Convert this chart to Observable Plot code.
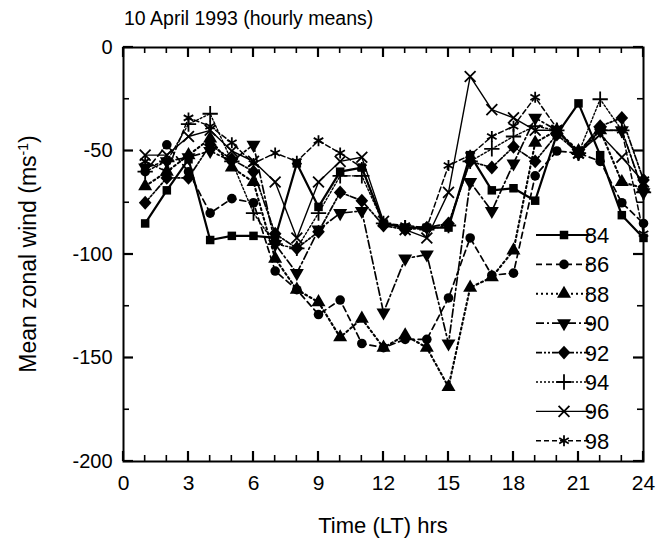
<!DOCTYPE html>
<html><head><meta charset="utf-8">
<script src="https://cdn.jsdelivr.net/npm/d3@7"></script>
<script src="https://cdn.jsdelivr.net/npm/@observablehq/plot@0.6"></script>
<style>
body{margin:0;background:#fff;}
#wrap{position:relative;width:670px;height:540px;font-family:"Liberation Sans",Arial,Helvetica,sans-serif;}
#title{position:absolute;left:124px;top:7px;font-size:19.5px;color:#000;white-space:nowrap;}
</style></head><body><div id="wrap"><div id="title">10 April 1993 (hourly means)</div></div>
<script>
// ---- data ----
const hours = [1,2,3,4,5,6,7,8,9,10,11,12,13,14,15,16,17,18,19,20,21,22,23,24];
const years = ["84","86","88","90","92","94","96","98"];
const s84 = [-85,-69,-54,-93,-91,-91,-92,-56,-77,-60,-58,-85,-87,-87,-87,-52,-69,-68,-74,-42,-27,-52,-81,-92];
const s86 = [-60,-47,-60,-80,-73,-75,-108,-117,-129,-122,-143,-145,-141,-141,-121,-92,-110,-109,-62,-50,-51,-55,-75,-85];
const s88 = [-67,-60,-52,-44,-58,-65,-102,-117,-123,-140,-131,-145,-139,-145,-164,-116,-111,-98,-46,-40,-50,-40,-65,-68];
const s90 = [-58,-55,-53,-50,-55,-47,-95,-109,-88,-80,-79,-128,-102,-100,-143,-65,-79,-56,-34,-40,-51,-40,-40,-70];
const s92 = [-75,-63,-63,-47,-54,-60,-90,-97,-89,-70,-74,-86,-88,-87,-85,-55,-58,-48,-55,-42,-51,-38,-34,-64];
const s94 = [-60,-55,-37,-32,-55,-80,-95,-97,-80,-62,-62,-85,-87,-88,-86,-55,-49,-43,-38,-40,-51,-25,-40,-70];
const s96 = [-52,-52,-43,-40,-50,-55,-65,-92,-65,-55,-53,-84,-88,-92,-70,-14,-30,-34,-40,-40,-51,-42,-53,-65];
const s98 = [-55,-60,-34,-38,-46,-56,-51,-55,-45,-51,-58,-85,-86,-87,-57,-52,-43,-38,-24,-39,-52,-40,-40,-90];
const seriesValues = [s84,s86,s88,s90,s92,s94,s96,s98];
const xMajorTicks = [0,3,6,9,12,15,18,21,24];
const xMinorTicks = [1,2,4,5,7,8,10,11,13,14,16,17,19,20,22,23];
const yMajorTicks = [0,-50,-100,-150,-200];
const yMinorTicks = [-25,-75,-125,-175];
const xLabel = "Time (LT) hrs";

// ---- custom symbols ----
const triDown = {draw(ctx, size){const y=-Math.sqrt(size/(Math.sqrt(3)*3));const s=Math.sqrt(3);ctx.moveTo(0,-y*2);ctx.lineTo(-s*y,y);ctx.lineTo(s*y,y);ctx.closePath();}};
const diamondSq = {draw(ctx, size){const d=Math.sqrt(size/2)*1.05;ctx.moveTo(0,-d*1.1);ctx.lineTo(d,0);ctx.lineTo(0,d*1.1);ctx.lineTo(-d,0);ctx.closePath();}};

const styles = [
  {dash:null, w:2.2, sym:"square", r:4.8, filled:true},
  {dash:"6,4", w:1.7, sym:"circle", r:4.8, filled:true},
  {dash:"2,3", w:2.1, sym:"triangle", r:5.2, filled:true},
  {dash:"8,3,2,3", w:1.7, sym:triDown, r:5.2, filled:true},
  {dash:"6,2,2,2,2,2", w:1.7, sym:diamondSq, r:4.8, filled:true},
  {dash:"2,2", w:1.4, sym:"plus", r:5, filled:false},
  {dash:null, w:1.4, sym:"times", r:5, filled:false},
  {dash:"5,3", w:1.5, sym:"asterisk", r:5.2, filled:false}
];

const tables = seriesValues.map(vals => hours.map((h,i)=>({h, v: vals[i]})));

const W = 670, H = 540, mT = 47, mB = 79, mL = 123, mR = 27;
const xDom = [0,24], yDom = [-200,0];
const MAJ = 10, MIN = 6;

const marks = [];
tables.forEach((t,i)=>{
  const s = styles[i];
  marks.push(Plot.line(t,{x:"h",y:"v",stroke:"black",strokeWidth:s.w,strokeDasharray:s.dash}));
});
tables.forEach((t,i)=>{
  const s = styles[i];
  marks.push(Plot.dot(t,{x:"h",y:"v",symbol:s.sym,r:s.r,
    fill: s.filled ? "black" : "none", stroke: s.filled ? "none" : "black", strokeWidth: s.filled ? 0 : 1.8}));
});
marks.push(Plot.axisX(xMajorTicks,{anchor:"bottom",tickSize:0,tickPadding:14,label:null,fontSize:21}));
marks.push(Plot.axisY(yMajorTicks,{anchor:"left",tickSize:0,tickPadding:11,label:null,fontSize:20,tickFormat:d=>String(d)}));
marks.push(Plot.frame({stroke:"black",strokeWidth:2}));

const plot = Plot.plot({
  width:W, height:H,
  marginTop:mT, marginBottom:mB, marginLeft:mL, marginRight:mR,
  x:{domain:xDom}, y:{domain:yDom},
  style:{fontFamily:'"Liberation Sans",Arial,Helvetica,sans-serif',fontSize:"19px",color:"black",background:"white",overflow:"visible"},
  marks
});
document.getElementById("wrap").appendChild(plot);

const svg = d3.select(plot);
const sx = plot.scale("x"), sy = plot.scale("y");
const X = v => sx.apply(v), Y = v => sy.apply(v);
const x0 = X(xDom[0]), x1 = X(xDom[1]), y0 = Y(yDom[0]), y1 = Y(yDom[1]);

// inward ticks on all four sides, placed through Plot's scales
const tg = svg.append("g").attr("stroke","black");
for (const [ticks, len, sw] of [[xMinorTicks, MIN, 1.6], [xMajorTicks, MAJ, 2.2]]) {
  for (const t of ticks) {
    tg.append("line").attr("x1",X(t)).attr("x2",X(t)).attr("y1",y0).attr("y2",y0-len).attr("stroke-width",sw);
    tg.append("line").attr("x1",X(t)).attr("x2",X(t)).attr("y1",y1).attr("y2",y1+len).attr("stroke-width",sw);
  }
}
for (const [ticks, len, sw] of [[yMinorTicks, MIN, 1.6], [yMajorTicks, MAJ, 2.2]]) {
  for (const t of ticks) {
    tg.append("line").attr("y1",Y(t)).attr("y2",Y(t)).attr("x1",x0).attr("x2",x0+len).attr("stroke-width",sw);
    tg.append("line").attr("y1",Y(t)).attr("y2",Y(t)).attr("x1",x1).attr("x2",x1-len).attr("stroke-width",sw);
  }
}

// axis titles
svg.append("text").attr("x",(x0+x1)/2).attr("y",533).attr("text-anchor","middle")
  .attr("font-size",22).attr("fill","black").text(xLabel);
const yl = svg.append("text").attr("transform",`translate(36,${(y0+y1)/2}) rotate(-90)`).attr("text-anchor","middle")
  .attr("font-size",23).attr("fill","black");
yl.append("tspan").text("Mean zonal wind (ms");
yl.append("tspan").attr("font-size",14).attr("dy",-8).text("-1");
yl.append("tspan").attr("dy",8).text(")");

// legend
const lg = svg.append("g");
years.forEach((yr,i)=>{
  const s = styles[i];
  const yy = 235 + i*29.4;
  lg.append("line").attr("x1",536).attr("x2",592).attr("y1",yy).attr("y2",yy)
    .attr("stroke","black").attr("stroke-width",s.w).attr("stroke-dasharray",s.dash);
  const typ = typeof s.sym === "string" ? {square:d3.symbolSquare,circle:d3.symbolCircle,triangle:d3.symbolTriangle,plus:d3.symbolPlus,times:d3.symbolTimes,asterisk:d3.symbolAsterisk}[s.sym] : s.sym;
  lg.append("path").attr("transform",`translate(564,${yy})`)
    .attr("d",d3.symbol().type(typ).size(Math.PI*s.r*s.r)())
    .attr("fill", s.filled ? "black" : "none").attr("stroke", s.filled ? "none" : "black").attr("stroke-width",1.8);
  lg.append("text").attr("x",597).attr("y",yy).attr("dy","0.36em").attr("font-size",22).attr("fill","black").text(yr);
});
</script></body></html>
